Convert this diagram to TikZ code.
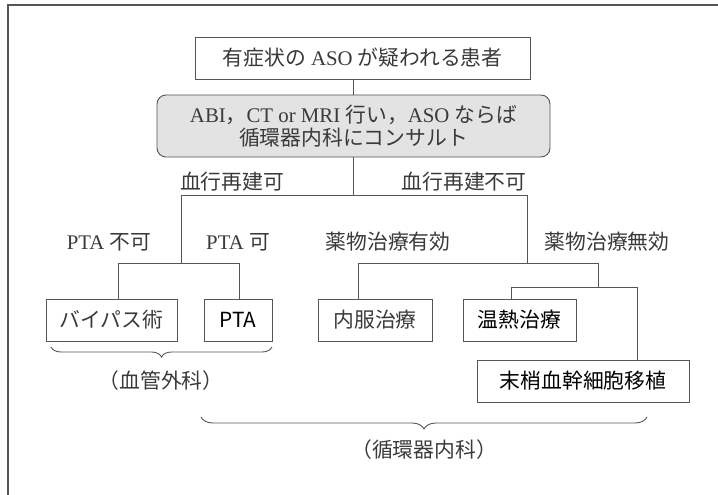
\documentclass[tikz,border=0pt]{standalone}
\usepackage{fontspec}
\setmainfont{Liberation Serif}
\newfontfamily\jp{Noto Sans CJK JP}
\newcommand\J[1]{{\jp #1}}
\usetikzlibrary{decorations.pathreplacing}
\definecolor{linec}{HTML}{555555}
\definecolor{txtc}{HTML}{3A3A3A}
\begin{document}
\begin{tikzpicture}[x=1pt,y=-1pt,
  every node/.style={font=\fontsize{20.8}{25}\selectfont, text=txtc, inner sep=0pt},
  boxs/.style={draw=linec, line width=0.9pt, fill=white, minimum height=42pt},
  sbox/.style={boxs, text=black, font=\jp\fontsize{20.8}{25}\selectfont},
  conn/.style={draw=linec, line width=0.9pt},
  lab/.style={anchor=center},
  brc/.style={draw=linec, line width=0.9pt, decorate, decoration={brace, mirror, amplitude=#1}}
]
\useasboundingbox (0,0) rectangle (718,495);
% frame
\draw[conn, line width=1.2pt] (718,5) -- (8,5) -- (8,495);

% boxes
\node[boxs, minimum width=335pt] (top) at (362.5,58) {\J{有症状の} ASO \J{が疑われる患者}};
\node[boxs, minimum width=393pt, minimum height=62pt, rounded corners=9pt, fill=black!11, align=center] (round) at (353.5,126)
  {ABI\J{，}CT or MRI \J{行い，}ASO \J{ならば}\\[-2pt]\J{循環器内科にコンサルト}};
\node[boxs, minimum width=131pt, font=\jp\fontsize{20.8}{25}\selectfont] (bypass) at (111.5,320) {バイパス術};
\node[sbox, minimum width=68pt] (pta) at (238,320) {PTA};
\node[boxs, minimum width=114pt, font=\jp\fontsize{20.8}{25}\selectfont] (naifuku) at (375,320) {内服治療};
\node[sbox, minimum width=113pt] (onnetsu) at (519.5,320) {温熱治療};
\node[sbox, minimum width=212pt] (matsu) at (583,381) {末梢血幹細胞移植};

% connectors
\coordinate (j0) at (353,195);
\coordinate (jl) at (181,195);
\coordinate (jr) at (527,195);
\coordinate (l1) at (181,263);
\coordinate (r1) at (527,263);
\coordinate (la) at (118,263);
\coordinate (lb) at (239,263);
\coordinate (ra) at (358,263);
\coordinate (rb) at (598,263);
\coordinate (rc) at (598,287);
\coordinate (rd) at (511,287);
\coordinate (re) at (637,287);

\draw[conn] (top.south -| j0) -- (round.north -| j0);
\draw[conn] (round.south -| j0) -- (j0);
\draw[conn] (jl) -- (jr);
\draw[conn] (jl) -- (l1);
\draw[conn] (jr) -- (r1);
\draw[conn] (la |- bypass.north) -- (la) -- (lb) -- (lb |- pta.north);
\draw[conn] (ra |- naifuku.north) -- (ra) -- (rb) -- (rc);
\draw[conn] (rd |- onnetsu.north) -- (rd) -- (re) -- (re |- matsu.north);

% labels
\node[lab] (t1) at (232,182) {\J{血行再建可}};
\node[lab] (t2) at (464,182) {\J{血行再建不可}};
\node[lab] (t3) at (109,242) {PTA \J{不可}};
\node[lab] (t4) at (238,242) {PTA \J{可}};
\node[lab] (t5) at (388,242) {\J{薬物治療有効}};
\node[lab] (t6) at (607,242) {\J{薬物治療無効}};

% braces
\coordinate (b1a) at (51,347);
\coordinate (b1b) at (272,347);
\coordinate (b2a) at (201,417);
\coordinate (b2b) at (647,417);
\draw[brc=10pt] (b1a) -- (b1b);
\draw[brc=12pt] (b2a) -- (b2b);
\node[lab] (d1) at (161,381) {\J{（血管外科）}};
\node[lab] (d2) at (424,450) {\J{（循環器内科）}};
\end{tikzpicture}
\end{document}
